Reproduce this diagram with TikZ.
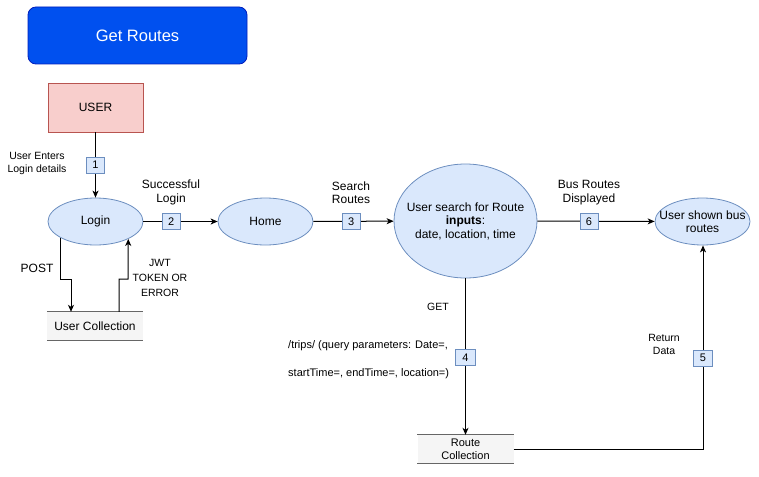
\documentclass[tikz,border=0pt]{standalone}
\usepackage{fontspec}
\setmainfont{Liberation Sans}
\usetikzlibrary{shapes.geometric,arrows.meta,calc}
\definecolor{titlefill}{HTML}{0050EF}
\definecolor{titledraw}{HTML}{001DBC}
\definecolor{userfill}{HTML}{F8CECC}
\definecolor{userdraw}{HTML}{B85450}
\definecolor{bluefill}{HTML}{DAE8FC}
\definecolor{bluedraw}{HTML}{6C8EBF}
\definecolor{storefill}{HTML}{F5F5F5}
\definecolor{storedraw}{HTML}{666666}
\begin{document}
\begin{tikzpicture}[x=1pt,y=-1pt,
  arr/.style={draw=black, line width=1pt, -{Stealth[length=7pt,width=6pt,inset=2pt]}},
  numbox/.style={draw=bluedraw, fill=bluefill, line width=0.8pt, minimum width=18pt, minimum height=16pt, inner sep=0pt, font=\fontsize{11}{13}\selectfont},
  proc/.style={ellipse, draw=bluedraw, fill=bluefill, line width=0.8pt, minimum width=95pt, minimum height=47pt, inner sep=0pt, align=center, font=\fontsize{12}{13.5}\selectfont},
  bigproc/.style={proc, inner xsep=-12pt, inner ysep=-6pt},
  store/.style={fill=storefill, minimum width=96pt, minimum height=28pt, inner sep=0pt, align=center, font=\fontsize{11}{13}\selectfont},
  lbl/.style={align=center, inner sep=0pt, font=\fontsize{12}{13.5}\selectfont},
  slbl/.style={align=center, inner sep=0pt, font=\fontsize{10.5}{13}\selectfont}
]
\useasboundingbox (0,0) rectangle (759,476);

% title
\node[draw=titledraw, fill=titlefill, rounded corners=8pt, line width=0.8pt, minimum width=219pt, minimum height=57pt, inner sep=0pt, text=white, font=\fontsize{16.5}{18}\selectfont] (title) at (137.5,35.5) {Get Routes};

% nodes
\node[draw=userdraw, fill=userfill, line width=0.8pt, minimum width=95pt, minimum height=49pt, inner sep=0pt, font=\fontsize{12}{14}\selectfont] (user) at (95.5,107.5) {USER};
\node[proc] (login) at (95.5,221.5) {Login};
\node[proc] (home) at (265.5,221.5) {Home};
\node[bigproc, minimum width=143pt, minimum height=114pt] (search) at (465.5,221) {User search for Route\\\textbf{inputs}:\\date, location, time};
\node[bigproc] (shown) at (702.5,221.5) {User shown bus\\routes};
\node[store, font=\fontsize{12}{14}\selectfont] (ucoll) at (95,326) {User Collection};
\node[store] (rcoll) at (465.5,449) {Route\\Collection};
\draw[storedraw, line width=0.8pt] (ucoll.north west) -- (ucoll.north east) (ucoll.south west) -- (ucoll.south east);
\draw[storedraw, line width=0.8pt] (rcoll.north west) -- (rcoll.north east) (rcoll.south west) -- (rcoll.south east);

% connectors
\draw[arr] (user) -- node[numbox] (n1) {1} (login);
\draw[arr] (login) -- node[numbox, pos=0.373] (n2) {2} (home);
\draw[arr] (home) -- node[numbox, pos=0.47] (n3) {3} (search);
\draw[arr] (search) -- node[numbox, pos=0.44] (n6) {6} (shown);
\draw[arr] (search) -- node[numbox, minimum width=20pt, pos=0.504] (n4) {4} (rcoll);
\coordinate (c5) at (703,449);
\draw[arr] (rcoll.east) -- (c5) -- node[numbox, minimum width=19pt, pos=0.446] (n5) {5} (shown.south -| c5);
\draw[arr] (login.205) |- (71,279) -- (ucoll.north -| 71,279);
\draw[arr] (ucoll.north -| 119,279) |- (128,279) -- (login.332);

% labels
\node[slbl] (l1) at (37,163.5) {User Enters\\Login details};
\node[lbl] (l2) at (171,192.5) {Successful\\Login};
\node[lbl] (l3) at (351,192.5) {Search\\Routes};
\node[lbl] (l6) at (589,192.5) {Bus Routes\\Displayed};
\node[lbl] (lpost) at (37,268) {POST};
\node[align=center, inner sep=0pt, font=\fontsize{10.5}{15}\selectfont] (ljwt) at (160,278) {JWT\\TOKEN OR\\ERROR};
\node[slbl] (lget) at (438,307) {GET};
\node[align=left, inner sep=0pt, anchor=west, font=\fontsize{11}{28}\selectfont] (l4) at (288,360) {/trips/ (query parameters: Date=,\\startTime=, endTime=, location=)};
\node[slbl] (l5) at (664,344.5) {Return\\Data};
\end{tikzpicture}
\end{document}
